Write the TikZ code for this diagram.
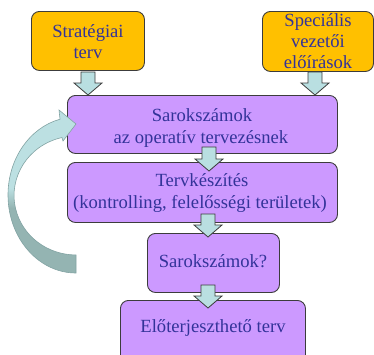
\documentclass[tikz,border=0pt]{standalone}
\usepackage{fontspec}
\setmainfont{Liberation Serif}
\newfontfamily\tnrfont{Liberation Serif}
\definecolor{orfill}{HTML}{FFC000}
\definecolor{pufill}{HTML}{CC99FF}
\definecolor{arfill}{HTML}{B9DFE1}
\definecolor{txtc}{HTML}{333399}
\definecolor{edgec}{HTML}{3C3C3C}
\definecolor{cvlight}{HTML}{BCE0E2}
\definecolor{cvdark}{HTML}{94B4B2}
\definecolor{cvedge}{HTML}{82A3A3}
\tikzset{
  box/.style={draw=edgec, line width=0.9pt, rounded corners=8pt, inner sep=0pt, anchor=north west},
  obox/.style={box, fill=orfill},
  pbox/.style={box, fill=pufill},
  lbl/.style={text=txtc, font=\tnrfont\fontsize{18.6}{21}\selectfont, anchor=base, inner sep=0pt},
  barrowst/.style={draw=edgec, line width=0.8pt, fill=arfill, line join=miter},
}
\newcommand\blockarr[3]{%
  \draw[barrowst] (#1-7,#2) -- (#1+7,#2) -- (#1+7,#3-12) -- (#1+14,#3-12) -- (#1,#3)
    -- (#1-14,#3-12) -- (#1-7,#3-12) -- cycle;}
\begin{document}
\begin{tikzpicture}[x=1pt,y=-1pt]
\useasboundingbox (0,0) rectangle (374,354);
\clip (0,0) rectangle (374,354);
% boxes
\node[obox, minimum width=113pt, minimum height=59pt] (strat) at (31,11) {};
\node[obox, minimum width=111pt, minimum height=60pt] (spec) at (262,11) {};
\node[pbox, minimum width=270pt, minimum height=58pt] (b1) at (67,95) {};
\node[pbox, minimum width=270pt, minimum height=60pt] (b2) at (67,162) {};
\node[pbox, minimum width=132pt, minimum height=59pt] (b3) at (147,233) {};
\node[pbox, minimum width=185pt, minimum height=70pt] (b4) at (120,300) {};
% block arrows
\blockarr{88}{72}{95}
\blockarr{315}{72}{95}
\blockarr{209}{147}{171}
\blockarr{208}{214}{237}
\blockarr{208}{285}{308}
% curved feedback arrow
\begin{scope}
\clip (76,273) arc[start angle=90, end angle=256.4, x radius=68, y radius=78]
  -- (59,110) -- (76,124) -- (63,141) -- (62,137.5)
  arc[start angle=256.9, end angle=90, x radius=62, y radius=59.5] -- cycle;
\fill[cvlight] (0,100) rectangle (80,188);
\shade[top color=cvlight, bottom color=cvdark] (0,188) rectangle (80,208);
\fill[cvdark] (0,208) rectangle (80,280);
\end{scope}
\draw[cvedge, line width=0.6pt, line join=miter]
  (76,273) arc[start angle=90, end angle=256.4, x radius=68, y radius=78]
  -- (59,110) -- (76,124) -- (63,141) -- (62,137.5)
  arc[start angle=256.9, end angle=90, x radius=62, y radius=59.5] -- cycle;
% labels
\node[lbl] (st1) at (88,37) {Stratégiai};
\node[lbl] (st2) at (88,58) {terv};
\node[lbl] (sp1) at (318,26) {Speciális};
\node[lbl] (sp2) at (318,47.7) {vezetői};
\node[lbl] (sp3) at (318,68.3) {előírások};
\node[lbl] (l1a) at (202,121) {Sarokszámok};
\node[lbl] (l1b) at (201,143) {az operatív tervezésnek};
\node[lbl] (l2a) at (202,186) {Tervkészítés};
\node[lbl] (l2b) at (200,208) {(kontrolling, felelősségi területek)};
\node[lbl] (l3) at (213,267) {Sarokszámok?};
\node[lbl] (l4) at (213,332) {Előterjeszthető terv};
\end{tikzpicture}
\end{document}
